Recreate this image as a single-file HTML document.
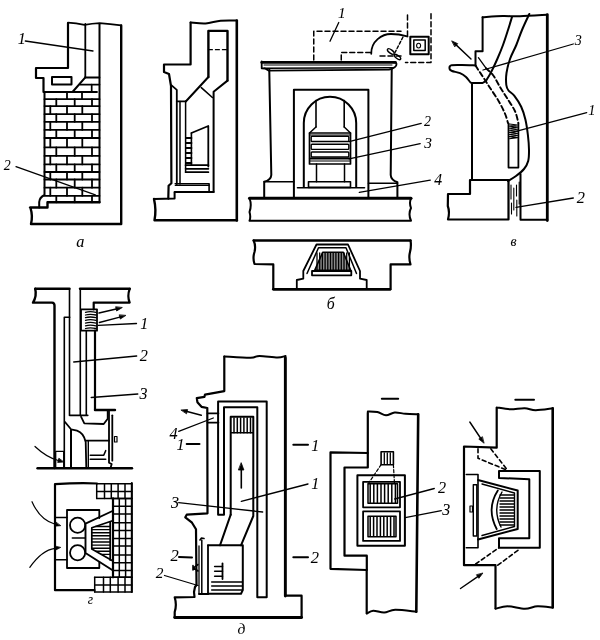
<!DOCTYPE html>
<html><head><meta charset="utf-8"><style>
html,body{margin:0;padding:0;background:#fff;width:600px;height:640px;overflow:hidden}
svg{display:block;will-change:transform}
text{font-family:"Liberation Serif",serif;font-style:italic;fill:#000;stroke:#000;stroke-width:0.05px}
</style></head><body>
<svg width="600" height="640" viewBox="0 0 600 640" fill="none" stroke="#000" stroke-linecap="round" stroke-linejoin="round">
<path d="M68,22.7 Q76,23 84.5,24.8 Q92,23.5 99.7,23.1 Q110,24 121.2,25.4" stroke-width="1.8" />
<path d="M121.2,25.4 L121.2,224 L31,224 Q33,216 30.5,208 L30,207.5 L47.5,207.5 L47.5,202.3 L99.5,202.3" stroke-width="2.4" />
<path d="M68,23 L68,68 L36,68 L36,78 L43.5,78 L43.5,92 L72.5,92" stroke-width="2.2" />
<path d="M44.5,92 L44.5,195 Q39.5,197.5 39.2,202 L39.2,207.5" stroke-width="2" />
<line x1="85.3" y1="24" x2="85.3" y2="77.3" stroke-width="1.8" />
<line x1="99.5" y1="24" x2="99.5" y2="202.3" stroke-width="2" />
<path d="M85.3,77.3 L72.5,92" stroke-width="2" />
<rect x="52" y="77" width="19.5" height="7.5" stroke-width="2" />
<line x1="44.5" y1="99.2" x2="99.5" y2="99.2" stroke-width="1.8" />
<line x1="44.5" y1="106.1" x2="99.5" y2="106.1" stroke-width="1.8" />
<line x1="44.5" y1="114.2" x2="99.5" y2="114.2" stroke-width="1.8" />
<line x1="44.5" y1="121.8" x2="99.5" y2="121.8" stroke-width="1.8" />
<line x1="44.5" y1="129.9" x2="99.5" y2="129.9" stroke-width="1.8" />
<line x1="44.5" y1="138" x2="99.5" y2="138" stroke-width="1.8" />
<line x1="44.5" y1="147.3" x2="99.5" y2="147.3" stroke-width="1.8" />
<line x1="44.5" y1="155.9" x2="99.5" y2="155.9" stroke-width="1.8" />
<line x1="44.5" y1="164.4" x2="99.5" y2="164.4" stroke-width="1.8" />
<line x1="44.5" y1="172" x2="99.5" y2="172" stroke-width="1.8" />
<line x1="44.5" y1="179.5" x2="99.5" y2="179.5" stroke-width="1.8" />
<line x1="44.5" y1="187.7" x2="99.5" y2="187.7" stroke-width="1.8" />
<line x1="44.5" y1="195.8" x2="99.5" y2="195.8" stroke-width="1.8" />
<line x1="67" y1="92" x2="67" y2="99.2" stroke-width="1.8" />
<line x1="82" y1="92" x2="82" y2="99.2" stroke-width="1.8" />
<line x1="56.3" y1="99.2" x2="56.3" y2="106.1" stroke-width="1.8" />
<line x1="74.7" y1="99.2" x2="74.7" y2="106.1" stroke-width="1.8" />
<line x1="92" y1="99.2" x2="92" y2="106.1" stroke-width="1.8" />
<line x1="50.3" y1="106.1" x2="50.3" y2="114.2" stroke-width="1.8" />
<line x1="67" y1="106.1" x2="67" y2="114.2" stroke-width="1.8" />
<line x1="82.3" y1="106.1" x2="82.3" y2="114.2" stroke-width="1.8" />
<line x1="56.3" y1="114.2" x2="56.3" y2="121.8" stroke-width="1.8" />
<line x1="74.7" y1="114.2" x2="74.7" y2="121.8" stroke-width="1.8" />
<line x1="92" y1="114.2" x2="92" y2="121.8" stroke-width="1.8" />
<line x1="50.3" y1="121.8" x2="50.3" y2="129.9" stroke-width="1.8" />
<line x1="67" y1="121.8" x2="67" y2="129.9" stroke-width="1.8" />
<line x1="82.3" y1="121.8" x2="82.3" y2="129.9" stroke-width="1.8" />
<line x1="56.3" y1="129.9" x2="56.3" y2="138" stroke-width="1.8" />
<line x1="74.7" y1="129.9" x2="74.7" y2="138" stroke-width="1.8" />
<line x1="92" y1="129.9" x2="92" y2="138" stroke-width="1.8" />
<line x1="50.3" y1="138" x2="50.3" y2="147.3" stroke-width="1.8" />
<line x1="67" y1="138" x2="67" y2="147.3" stroke-width="1.8" />
<line x1="82.3" y1="138" x2="82.3" y2="147.3" stroke-width="1.8" />
<line x1="56.3" y1="147.3" x2="56.3" y2="155.9" stroke-width="1.8" />
<line x1="74.7" y1="147.3" x2="74.7" y2="155.9" stroke-width="1.8" />
<line x1="92" y1="147.3" x2="92" y2="155.9" stroke-width="1.8" />
<line x1="50.3" y1="155.9" x2="50.3" y2="164.4" stroke-width="1.8" />
<line x1="67" y1="155.9" x2="67" y2="164.4" stroke-width="1.8" />
<line x1="82.3" y1="155.9" x2="82.3" y2="164.4" stroke-width="1.8" />
<line x1="56.3" y1="164.4" x2="56.3" y2="172" stroke-width="1.8" />
<line x1="74.7" y1="164.4" x2="74.7" y2="172" stroke-width="1.8" />
<line x1="92" y1="164.4" x2="92" y2="172" stroke-width="1.8" />
<line x1="50.3" y1="172" x2="50.3" y2="179.5" stroke-width="1.8" />
<line x1="67" y1="172" x2="67" y2="179.5" stroke-width="1.8" />
<line x1="82.3" y1="172" x2="82.3" y2="179.5" stroke-width="1.8" />
<line x1="56.3" y1="179.5" x2="56.3" y2="187.7" stroke-width="1.8" />
<line x1="74.7" y1="179.5" x2="74.7" y2="187.7" stroke-width="1.8" />
<line x1="92" y1="179.5" x2="92" y2="187.7" stroke-width="1.8" />
<line x1="50.3" y1="187.7" x2="50.3" y2="195.8" stroke-width="1.8" />
<line x1="67" y1="187.7" x2="67" y2="195.8" stroke-width="1.8" />
<line x1="82.3" y1="187.7" x2="82.3" y2="195.8" stroke-width="1.8" />
<line x1="56.3" y1="195.8" x2="56.3" y2="202.3" stroke-width="1.8" />
<line x1="74.7" y1="195.8" x2="74.7" y2="202.3" stroke-width="1.8" />
<line x1="92" y1="195.8" x2="92" y2="202.3" stroke-width="1.8" />
<line x1="85" y1="77.5" x2="99.5" y2="77.5" stroke-width="1.8" />
<line x1="80" y1="84.6" x2="99.5" y2="84.6" stroke-width="1.7" />
<line x1="91.7" y1="84.6" x2="91.7" y2="92" stroke-width="1.7" />
<line x1="72.5" y1="92" x2="97" y2="92" stroke-width="1.8" />
<text x="17.66" y="43.70" font-size="16.21">1</text>
<line x1="25.3" y1="41" x2="93" y2="51" stroke-width="1.3" />
<text x="3.73" y="170.00" font-size="13.85">2</text>
<line x1="16" y1="166.6" x2="95.3" y2="194.8" stroke-width="1.3" />
<text x="76.22" y="246.64" font-size="16.25">а</text>
<path d="M190.6,22.5 C193.10,22.65 200.60,23.68 205.6,23.4 C210.60,23.12 215.40,21.27 220.6,20.8 C225.80,20.33 234.10,20.63 236.8,20.6" stroke-width="2" />
<path d="M190.6,22.5 L190.6,64.5 L164,64.5 L164,72 L169,74 L171,86 L171.4,183.2 L168.6,185.8 L168.3,198.6" stroke-width="2.2" />
<line x1="236.8" y1="20.6" x2="236.8" y2="220.5" stroke-width="2.6" />
<path d="M154,199 L174.6,198.6 L174.6,192.5" stroke-width="2" />
<path d="M154,199 Q156.5,210 154.5,220.3 L237,220.3" stroke-width="2.4" />
<path d="M208.4,77 L208.4,30.9 L227.5,30.9 L227.5,80.6" stroke-width="2.4" />
<line x1="208.4" y1="49.7" x2="227.5" y2="49.7" stroke-width="1.2" stroke-dasharray="4,3"/>
<path d="M208.4,77 L186,101.3" stroke-width="2" />
<path d="M227.5,80.6 L213.6,91.7 L213.6,192" stroke-width="2" />
<path d="M201.3,87.6 L212.4,97.5" stroke-width="1.6" />
<path d="M171.6,85.3 L176.8,89.9 L176.8,184" stroke-width="1.8" />
<path d="M176.8,101.3 L186,101.3" stroke-width="1.8" />
<line x1="180" y1="101.6" x2="180" y2="184" stroke-width="1.5" />
<line x1="185.6" y1="101.3" x2="185.6" y2="172.2" stroke-width="1.5" />
<path d="M175.2,183.8 L209.1,183.8 L209.1,191.5" stroke-width="1.6" />
<line x1="175.2" y1="185.3" x2="209.1" y2="185.3" stroke-width="1.2" />
<line x1="174.6" y1="192" x2="213.6" y2="192" stroke-width="2" />
<path d="M191.4,133 L208.3,126 L208.3,166.6" stroke-width="1.8" />
<line x1="191.4" y1="133" x2="191.4" y2="165.2" stroke-width="1.6" />
<line x1="186.3" y1="138" x2="191.4" y2="138" stroke-width="2" />
<line x1="186.3" y1="143" x2="191.4" y2="143" stroke-width="2" />
<line x1="186.3" y1="148" x2="191.4" y2="148" stroke-width="2" />
<line x1="186.3" y1="153" x2="191.4" y2="153" stroke-width="2" />
<line x1="186.3" y1="158" x2="191.4" y2="158" stroke-width="2" />
<line x1="186.3" y1="163" x2="191.4" y2="163" stroke-width="2" />
<line x1="185.6" y1="165.2" x2="208.4" y2="165.2" stroke-width="1.8" />
<line x1="185.6" y1="168.8" x2="208.4" y2="168.8" stroke-width="1.7" />
<line x1="185.6" y1="172.2" x2="208.4" y2="172.2" stroke-width="1.7" />
<path d="M313.75,60 L313.75,31.25 L401,31.25" stroke-width="1.5" stroke-dasharray="5,3"/>
<path d="M341.25,60 L341.25,52.5 L372.5,52.5" stroke-width="1.5" stroke-dasharray="5,3"/>
<path d="M371.25,53.75 C371,41 382,34 391,34 C399,34 404,35.5 407.5,36.5" stroke-width="1.8" />
<path d="M407.5,15 L407.5,37.5" stroke-width="1.5" stroke-dasharray="5,3"/>
<path d="M431,13.75 L431,62.5 L405.5,62.5" stroke-width="1.5" stroke-dasharray="5,3"/>
<line x1="380" y1="56" x2="404" y2="56" stroke-width="1.5" stroke-dasharray="5,3"/>
<rect x="410.3" y="36.8" width="18.4" height="17.4" stroke-width="2.0" />
<rect x="413.8" y="40" width="11.4" height="10.6" stroke-width="1.5" />
<ellipse cx="418.6" cy="45.6" rx="2" ry="2.4" stroke-width="1.1"/>
<line x1="403" y1="37" x2="395" y2="52.5" stroke-width="1.4" stroke-dasharray="3,2"/>
<ellipse cx="390.8" cy="51.5" rx="4" ry="1.7" transform="rotate(37 390.8 51.5)" stroke-width="1.4"/>
<ellipse cx="397.5" cy="57" rx="3.8" ry="1.6" transform="rotate(37 397.5 57)" stroke-width="1.4"/>
<text x="337.99" y="17.50" font-size="15.15">1</text>
<line x1="338.75" y1="22.5" x2="330" y2="41.25" stroke-width="1.3" />
<path d="M261.7,62.4 L395.5,62.4" stroke-width="2.6" />
<path d="M261.7,61.5 L261.7,68.3 L265,68.5 L268.5,70.6 L389,69.6 L391.7,68.8 Q396.5,67 396.5,64 Q396.5,62.4 394,62.4" stroke-width="1.8" />
<line x1="264" y1="65" x2="392" y2="65" stroke-width="1.0" />
<line x1="264" y1="68.3" x2="392.5" y2="67.8" stroke-width="1.4" />
<path d="M269.3,69.3 L269.3,71.3 L271.3,175 Q271,180 264.2,181.8 L264.2,197.3" stroke-width="2" />
<path d="M391.7,69.3 L391.7,71.3 L390.7,175 Q391,180 397.4,182.2 L397.4,197.3" stroke-width="2" />
<line x1="264.2" y1="181.8" x2="293.9" y2="181.8" stroke-width="1.6" />
<line x1="368.4" y1="183.2" x2="397.4" y2="183.2" stroke-width="1.6" />
<path d="M293.9,197 L293.9,89.7 L368.4,89.7 L368.4,197" stroke-width="2" />
<path d="M303.8,187 L303.8,123 A26.2,26.2 0 0 1 356.2,123 L356.2,187" stroke-width="2" />
<line x1="316" y1="100.5" x2="316" y2="127" stroke-width="1.6" />
<line x1="344.2" y1="100.5" x2="344.2" y2="127" stroke-width="1.6" />
<path d="M316,127 L309.5,133" stroke-width="1.5" />
<path d="M344.2,127 L350.5,133" stroke-width="1.5" />
<line x1="297.5" y1="187.75" x2="364.5" y2="187.75" stroke-width="1.6" />
<rect x="308.5" y="181.8" width="42" height="5.6" stroke-width="1.6" />
<rect x="309.5" y="133" width="41" height="31" stroke-width="1.7" />
<line x1="309.5" y1="135" x2="350.5" y2="135" stroke-width="1.2" />
<rect x="311.2" y="136.3" width="37.6" height="5.2" stroke-width="1.4" rx="0.8"/>
<rect x="311.2" y="144.2" width="37.6" height="5.2" stroke-width="1.4" rx="0.8"/>
<rect x="311.2" y="152" width="37.6" height="5" stroke-width="1.4" rx="0.8"/>
<line x1="310" y1="158.5" x2="350" y2="158.5" stroke-width="2.2" />
<line x1="310" y1="161" x2="350" y2="161" stroke-width="1.2" />
<line x1="316.5" y1="164" x2="316.5" y2="181.8" stroke-width="1.5" />
<line x1="344.5" y1="164" x2="344.5" y2="181.8" stroke-width="1.5" />
<path d="M249.5,198.25 L411,198.25" stroke-width="3" />
<path d="M249.5,198.25 Q252,205 249.5,212 Q251,217 249.5,220.75 L411,220.75 Q408,214 411,208 Q409,203 411,198.25" stroke-width="2" />
<text x="423.89" y="126.40" font-size="14.00">2</text>
<line x1="349.1" y1="141.6" x2="421.2" y2="123.3" stroke-width="1.3" />
<text x="424.20" y="147.55" font-size="15.45">3</text>
<line x1="349.1" y1="158.9" x2="420.2" y2="143.6" stroke-width="1.3" />
<text x="434.18" y="185.20" font-size="15.69">4</text>
<line x1="359.3" y1="192.3" x2="430.3" y2="180.2" stroke-width="1.3" />
<path d="M253.7,240.5 L410.5,240.5" stroke-width="2.4" />
<path d="M253.7,240.5 Q256,246 254.5,252 Q252.5,258 254.5,264 L273.3,264.4 L273.3,289.3 L390.6,289.3 L390.6,264.4 L410.5,264.4 Q408.5,258 410,252 Q411.5,246 410.5,240.5" stroke-width="2.2" />
<line x1="273.3" y1="289.3" x2="390" y2="289.3" stroke-width="2.6" />
<path d="M296.8,289 L296.8,280 L303.3,278.7 L303.3,271 L316.5,244.5 L348,244.5 L360,271 L360,278.7 L366.7,280 L366.7,289" stroke-width="1.8" />
<path d="M307,273.5 L318.5,247.8 L346,247.8 L356.5,273.5" stroke-width="1.5" />
<path d="M322.7,252.3 L343.3,252.3 L350.7,270.3 L314.7,270.3 Z" stroke-width="1.6" fill="#000" fill-opacity="0.45"/>
<line x1="317.0" y1="253" x2="317.0" y2="270" stroke-width="1.3" />
<line x1="319.7" y1="253" x2="319.7" y2="270" stroke-width="1.3" />
<line x1="322.4" y1="253" x2="322.4" y2="270" stroke-width="1.3" />
<line x1="325.1" y1="253" x2="325.1" y2="270" stroke-width="1.3" />
<line x1="327.8" y1="253" x2="327.8" y2="270" stroke-width="1.3" />
<line x1="330.5" y1="253" x2="330.5" y2="270" stroke-width="1.3" />
<line x1="333.2" y1="253" x2="333.2" y2="270" stroke-width="1.3" />
<line x1="335.9" y1="253" x2="335.9" y2="270" stroke-width="1.3" />
<line x1="338.6" y1="253" x2="338.6" y2="270" stroke-width="1.3" />
<line x1="341.3" y1="253" x2="341.3" y2="270" stroke-width="1.3" />
<line x1="344.0" y1="253" x2="344.0" y2="270" stroke-width="1.3" />
<line x1="346.7" y1="253" x2="346.7" y2="270" stroke-width="1.3" />
<line x1="349.4" y1="253" x2="349.4" y2="270" stroke-width="1.3" />
<rect x="312" y="271" width="39.3" height="4.3" stroke-width="1.8" />
<text x="326.79" y="308.54" font-size="15.83">б</text>
<path d="M482.6,17.3 C485.95,17.08 496.47,16.17 502.7,16 C508.93,15.83 512.57,16.52 520,16.3 C527.43,16.08 542.75,14.97 547.3,14.7" stroke-width="2" />
<path d="M482.6,17.3 L482.6,51.3 L475.5,51.3 L475.5,65.4" stroke-width="2" />
<path d="M475.5,65.4 C473.25,65.33 466.08,65.00 462,65 C457.92,65.00 453.07,64.73 451,65.4 C448.93,66.07 449.43,68.07 449.6,69 C449.77,69.93 450.27,70.30 452,71 C453.73,71.70 457.67,72.20 460,73.2 C462.33,74.20 464.23,75.45 466,77 C467.77,78.55 469.43,81.50 470.6,82.5 C471.77,83.50 472.60,82.92 473,83" stroke-width="2" />
<path d="M473,83 L482.6,83 L486,80.8" stroke-width="2" />
<path d="M486,80.8 C486.83,79.40 489.12,76.03 491,72.4 C492.88,68.77 495.30,63.57 497.3,59 C499.30,54.43 501.22,49.83 503,45 C504.78,40.17 506.50,34.67 508,30 C509.50,25.33 511.33,19.17 512,17" stroke-width="2" />
<line x1="472" y1="83.2" x2="472" y2="180" stroke-width="2" />
<line x1="547.3" y1="14.7" x2="547.3" y2="220.5" stroke-width="2.8" />
<path d="M529.3,14 C528.08,16.67 524.17,24.83 522,30 C519.83,35.17 518.30,40.17 516.3,45 C514.30,49.83 511.63,54.33 510,59 C508.37,63.67 507.12,68.67 506.5,73 C505.88,77.33 505.97,82.08 506.3,85 C506.63,87.92 507.18,88.73 508.5,90.5 C509.82,92.27 512.08,92.88 514.2,95.6 C516.32,98.32 519.33,102.82 521.2,106.8 C523.07,110.78 524.28,114.80 525.4,119.5 C526.52,124.20 527.30,129.92 527.9,135 C528.50,140.08 528.95,145.67 529,150 C529.05,154.33 529.03,157.83 528.2,161 C527.37,164.17 526.03,166.50 524,169 C521.97,171.50 518.67,174.00 516,176 C513.33,178.00 509.33,180.17 508,181" stroke-width="2" />
<path d="M478.4,57.7 L486,68.2" stroke-width="1.3" />
<path d="M486,68.2 C487.18,69.37 490.75,72.03 493.1,75.2 C495.45,78.37 497.75,83.33 500.1,87.2 C502.45,91.07 504.73,94.43 507.2,98.4 C509.67,102.37 513.03,106.90 514.9,111 C516.77,115.10 517.82,121.00 518.4,123" stroke-width="1.9" stroke-dasharray="5,3"/>
<path d="M475.5,65.4 C476.08,66.33 477.70,69.02 479,71 C480.30,72.98 481.53,74.60 483.3,77.3 C485.07,80.00 487.03,83.22 489.6,87.2 C492.17,91.18 496.12,96.75 498.7,101.2 C501.28,105.65 503.55,110.27 505.1,113.9 C506.65,117.53 507.52,121.48 508,123" stroke-width="1.9" stroke-dasharray="5,3"/>
<line x1="471" y1="59" x2="456.355716103435" y2="45.1264678874647" stroke-width="1.4" />
<path d="M452.00,41.00 L457.73,43.67 L454.98,46.58 Z" stroke-width="0.8" fill="#000"/>
<path d="M508.5,123.5 L508.5,167.6 L518.4,167.6 L518.4,123.5" stroke-width="1.8" />
<path d="M509.5,124 L517.5,125.05 L509.5,126.10 L517.5,127.15 L509.5,128.20 L517.5,129.25 L509.5,130.30 L517.5,131.35 L509.5,132.40 L517.5,133.45 L509.5,134.50 L517.5,135.55 L509.5,136.60 L517.5,137.65 L509.5,138.70" stroke-width="1.1" />
<path d="M470,180 L508.5,180 L508.5,219.5 L448,219.5 Q450,212 447.8,206 L448,194 L470,194 Z" stroke-width="2.2" />
<path d="M520.5,174 L520.5,219.8 L547.3,219.8" stroke-width="2" />
<line x1="511" y1="185" x2="511" y2="199" stroke-width="1.1" />
<line x1="511.5" y1="203" x2="511.5" y2="214" stroke-width="1.1" />
<line x1="513.8" y1="188" x2="513.8" y2="210" stroke-width="1.1" />
<line x1="516.5" y1="185" x2="516.5" y2="196" stroke-width="1.1" />
<line x1="516.8" y1="200" x2="516.8" y2="216" stroke-width="1.1" />
<line x1="519.2" y1="182" x2="519.2" y2="204" stroke-width="1.1" />
<text x="574.76" y="45.16" font-size="14.09">3</text>
<line x1="573.3" y1="44" x2="483" y2="70" stroke-width="1.3" />
<text x="588.29" y="114.70" font-size="14.24">1</text>
<line x1="586.7" y1="112.7" x2="516" y2="131.3" stroke-width="1.3" />
<text x="576.74" y="203.30" font-size="16.31">2</text>
<line x1="573.3" y1="198" x2="516" y2="207.3" stroke-width="1.3" />
<text x="510.46" y="245.86" font-size="13.96">в</text>
<path d="M35.2,288.8 L69.5,288.8" stroke-width="2.4" />
<path d="M80,288.8 L129.7,288.8" stroke-width="2.4" />
<path d="M35.2,288.8 Q37,296 33,302.6 L52,302.6 Q54.5,302.8 54.5,305.5 L54.5,468" stroke-width="2.4" />
<path d="M129.7,288.8 Q127,296 129.7,302.6 L93.7,302.6 L93.7,309.3" stroke-width="2.2" />
<line x1="69.5" y1="288.8" x2="69.5" y2="415.3" stroke-width="1.6" />
<line x1="80.3" y1="288.8" x2="80.3" y2="415.3" stroke-width="1.6" />
<rect x="81" y="309.3" width="16" height="21.4" stroke-width="1.8" />
<path d="M85.5,312.30 Q90,310.90 96,312.30" stroke-width="1.3" />
<path d="M85.5,315.00 Q90,313.60 96,315.00" stroke-width="1.3" />
<path d="M85.5,317.70 Q90,316.30 96,317.70" stroke-width="1.3" />
<path d="M85.5,320.40 Q90,319.00 96,320.40" stroke-width="1.3" />
<path d="M85.5,323.10 Q90,321.70 96,323.10" stroke-width="1.3" />
<path d="M85.5,325.80 Q90,324.40 96,325.80" stroke-width="1.3" />
<path d="M85.5,328.50 Q90,327.10 96,328.50" stroke-width="1.3" />
<path d="M64.3,468 L64.3,317.3 L69.7,317.3" stroke-width="1.6" />
<line x1="86.3" y1="330.7" x2="86.3" y2="415.3" stroke-width="1.6" />
<line x1="95" y1="330.7" x2="95" y2="410" stroke-width="2.2" />
<line x1="69.7" y1="415.3" x2="87.7" y2="415.3" stroke-width="1.8" />
<path d="M95,410 L115,410" stroke-width="2.4" />
<line x1="99" y1="313" x2="116.15322468080659" y2="309.0473003996402" stroke-width="1.5" />
<path d="M122.00,307.70 L116.60,311.00 L115.70,307.10 Z" stroke-width="0.8" fill="#000"/>
<line x1="99.4" y1="322.4" x2="119.79241769502343" y2="317.1073114379329" stroke-width="1.5" />
<path d="M125.60,315.60 L120.29,319.04 L119.29,315.17 Z" stroke-width="0.8" fill="#000"/>
<text x="140.28" y="328.70" font-size="15.91">1</text>
<line x1="98.3" y1="325.3" x2="136.5" y2="323.5" stroke-width="1.3" />
<text x="139.77" y="361.30" font-size="16.15">2</text>
<line x1="73.7" y1="362" x2="136.7" y2="356" stroke-width="1.3" />
<text x="139.44" y="398.54" font-size="15.91">3</text>
<line x1="91.2" y1="397.5" x2="137.8" y2="394" stroke-width="1.3" />
<path d="M81,416.7 L84.3,423.3 L103.7,424 L107.7,418.7 L107.7,410" stroke-width="1.8" />
<path d="M109,411.3 L109,462.7 L111.7,464 L110.5,468" stroke-width="1.8" />
<line x1="112.3" y1="415.3" x2="112.3" y2="460.7" stroke-width="1.8" />
<rect x="114.5" y="436.5" width="2.5" height="5.5" stroke-width="1.2" />
<path d="M65,422 L71,429.3 L77,430.7 Q83.7,433 85.7,442 L86.3,468" stroke-width="1.8" />
<line x1="71" y1="430" x2="71" y2="468" stroke-width="2" />
<line x1="88.3" y1="441" x2="88.3" y2="468" stroke-width="1.4" />
<line x1="85.7" y1="440.7" x2="109" y2="440.7" stroke-width="1.8" />
<path d="M90.3,455.3 L103.7,455.3 L105.7,450.7" stroke-width="1.6" />
<line x1="90.3" y1="459.3" x2="105.7" y2="459.3" stroke-width="1.6" />
<rect x="55.7" y="451.3" width="8" height="16.7" stroke-width="1.3" />
<path d="M35,446.5 Q46,457 58.21,460.49" stroke-width="1.2" />
<path d="M63.50,462.00 L57.66,462.41 L58.76,458.57 Z" stroke-width="0.8" fill="#000"/>
<line x1="37.5" y1="468.3" x2="132" y2="468.3" stroke-width="2.4" />
<path d="M97,483.5 Q80,482.5 55,484.2 L55,590.2 L94.5,590.2" stroke-width="2.2" />
<line x1="96.7" y1="483.8" x2="96.7" y2="498.4" stroke-width="1.5" />
<line x1="104.5" y1="483.8" x2="104.5" y2="498.4" stroke-width="1.5" />
<line x1="111.3" y1="483.8" x2="111.3" y2="498.4" stroke-width="1.5" />
<line x1="118.1" y1="483.8" x2="118.1" y2="498.4" stroke-width="1.5" />
<line x1="125" y1="483.8" x2="125" y2="498.4" stroke-width="1.5" />
<line x1="131.8" y1="483.8" x2="131.8" y2="498.4" stroke-width="1.5" />
<line x1="96.7" y1="483.8" x2="131.8" y2="483.8" stroke-width="1.5" />
<line x1="96.7" y1="491.6" x2="131.8" y2="491.6" stroke-width="1.5" />
<line x1="96.7" y1="498.4" x2="131.8" y2="498.4" stroke-width="1.5" />
<line x1="113" y1="498.4" x2="113" y2="577.3" stroke-width="1.5" />
<line x1="119.3" y1="498.4" x2="119.3" y2="577.3" stroke-width="1.5" />
<line x1="125.6" y1="498.4" x2="125.6" y2="577.3" stroke-width="1.5" />
<line x1="131.8" y1="498.4" x2="131.8" y2="577.3" stroke-width="1.5" />
<line x1="113" y1="498.4" x2="131.8" y2="498.4" stroke-width="1.5" />
<line x1="113" y1="506.2" x2="131.8" y2="506.2" stroke-width="1.5" />
<line x1="113" y1="514" x2="131.8" y2="514" stroke-width="1.5" />
<line x1="113" y1="522.8" x2="131.8" y2="522.8" stroke-width="1.5" />
<line x1="113" y1="530.6" x2="131.8" y2="530.6" stroke-width="1.5" />
<line x1="113" y1="538.4" x2="131.8" y2="538.4" stroke-width="1.5" />
<line x1="113" y1="546.1" x2="131.8" y2="546.1" stroke-width="1.5" />
<line x1="113" y1="554.9" x2="131.8" y2="554.9" stroke-width="1.5" />
<line x1="113" y1="562.7" x2="131.8" y2="562.7" stroke-width="1.5" />
<line x1="113" y1="570.5" x2="131.8" y2="570.5" stroke-width="1.5" />
<line x1="113" y1="577.3" x2="131.8" y2="577.3" stroke-width="1.5" />
<line x1="94.7" y1="577.3" x2="94.7" y2="592" stroke-width="1.5" />
<line x1="103.5" y1="577.3" x2="103.5" y2="592" stroke-width="1.5" />
<line x1="110.3" y1="577.3" x2="110.3" y2="592" stroke-width="1.5" />
<line x1="118.1" y1="577.3" x2="118.1" y2="592" stroke-width="1.5" />
<line x1="125" y1="577.3" x2="125" y2="592" stroke-width="1.5" />
<line x1="131.8" y1="577.3" x2="131.8" y2="592" stroke-width="1.5" />
<line x1="94.7" y1="577.3" x2="131.8" y2="577.3" stroke-width="1.5" />
<line x1="94.7" y1="585.1" x2="131.8" y2="585.1" stroke-width="1.5" />
<line x1="94.7" y1="592" x2="131.8" y2="592" stroke-width="1.5" />
<line x1="113" y1="498.4" x2="113" y2="577.3" stroke-width="2.2" />
<line x1="131.8" y1="483" x2="131.8" y2="592" stroke-width="2" />
<path d="M99.3,518 L99.3,510 L67,510 L67,568 L99.3,568 L99.3,562" stroke-width="1.8" />
<circle cx="77.6" cy="525.2" r="7.6" stroke-width="1.8"/>
<circle cx="77.6" cy="552.7" r="7.6" stroke-width="1.8"/>
<line x1="72.3" y1="538" x2="85.2" y2="538" stroke-width="1.5" />
<line x1="55" y1="517.6" x2="67" y2="517.6" stroke-width="1.5" />
<line x1="55" y1="559.8" x2="67" y2="559.8" stroke-width="1.5" />
<path d="M112.5,511 L85.5,523.7 L85.5,553 L113,570.5" stroke-width="1.9" />
<path d="M112.5,520.8 L91.8,527.8 L91.8,549 L112.5,560.8" stroke-width="1.7" />
<line x1="110.2" y1="522" x2="110.2" y2="560" stroke-width="1.8" />
<line x1="95.64" y1="526.5" x2="110.2" y2="526.5" stroke-width="1.4" />
<line x1="91.8" y1="529.6" x2="110.2" y2="529.6" stroke-width="1.4" />
<line x1="91.8" y1="532.7" x2="110.2" y2="532.7" stroke-width="1.4" />
<line x1="91.8" y1="535.8" x2="110.2" y2="535.8" stroke-width="1.4" />
<line x1="91.8" y1="538.9" x2="110.2" y2="538.9" stroke-width="1.4" />
<line x1="91.8" y1="542.0" x2="110.2" y2="542.0" stroke-width="1.4" />
<line x1="91.8" y1="545.1" x2="110.2" y2="545.1" stroke-width="1.4" />
<line x1="91.8" y1="548.2" x2="110.2" y2="548.2" stroke-width="1.4" />
<line x1="95.83" y1="551.3" x2="110.2" y2="551.3" stroke-width="1.4" />
<line x1="101.27" y1="554.4" x2="110.2" y2="554.4" stroke-width="1.4" />
<path d="M32,501.7 Q40,520 55.10,524.22" stroke-width="1.2" />
<path d="M60.40,525.70 L54.56,526.15 L55.64,522.29 Z" stroke-width="0.8" fill="#000"/>
<path d="M29.8,567.3 Q42,550 54.95,548.31" stroke-width="1.2" />
<path d="M60.40,547.60 L55.20,550.29 L54.69,546.33 Z" stroke-width="0.8" fill="#000"/>
<text x="87.86" y="604.26" font-size="13.54">г</text>
<path d="M224.3,356.5 C228.67,356.71 244.63,357.85 250.5,357.75 C256.37,357.65 255.00,355.92 259.5,355.9 C264.00,355.88 273.17,357.58 277.5,357.6 C281.83,357.62 284.17,356.27 285.5,356" stroke-width="2" />
<path d="M224.3,356.7 L224.3,391.1 L205,394.6 L204.4,396.9 L196.8,398.1 L197.4,402.2 L201.5,406.8 L207.3,408 L207.5,513.3 L186.7,514.7 L185.3,517.3 L192,522.7 L196,529.3 L196.5,585 L195,587 L194,592 L194.5,597 L174.7,597.3 Q177,605 174.7,612 L174.7,617.5 L301.6,617.5 L301.6,595.7 L285.3,595.7 L285.3,356.7" stroke-width="2.2" />
<line x1="174.7" y1="617.5" x2="301.6" y2="617.5" stroke-width="2.8" />
<line x1="285.3" y1="358" x2="285.3" y2="596" stroke-width="2.8" />
<path d="M218.1,514.7 L218.1,401.5 L266.7,401.5 L266.7,597.3 L257.3,597.3 L257.3,407.3 L224,407.3 L224,514.7 Z" stroke-width="2" />
<path d="M230.7,514.7 L230.7,416.7 L253.3,416.7 L253.3,516 L241,545.3" stroke-width="2" />
<path d="M230.7,514.7 L220,545.3" stroke-width="2" />
<line x1="234.0" y1="418" x2="234.0" y2="432.7" stroke-width="1.5" />
<line x1="237.3" y1="418" x2="237.3" y2="432.7" stroke-width="1.5" />
<line x1="240.6" y1="418" x2="240.6" y2="432.7" stroke-width="1.5" />
<line x1="243.9" y1="418" x2="243.9" y2="432.7" stroke-width="1.5" />
<line x1="247.2" y1="418" x2="247.2" y2="432.7" stroke-width="1.5" />
<line x1="250.5" y1="418" x2="250.5" y2="432.7" stroke-width="1.5" />
<line x1="230.7" y1="432.7" x2="253.3" y2="432.7" stroke-width="1.4" />
<line x1="241.3" y1="488" x2="241.3" y2="470.0" stroke-width="1.6" />
<path d="M241.30,463.00 L243.90,470.00 L238.70,470.00 Z" stroke-width="0.8" fill="#000"/>
<line x1="207.5" y1="413.3" x2="218.4" y2="413.3" stroke-width="1.8" />
<line x1="207.5" y1="422.6" x2="218.4" y2="422.6" stroke-width="1.8" />
<line x1="201.3" y1="415.3" x2="187.09980917330694" y2="411.5369494309263" stroke-width="1.4" />
<path d="M181.30,410.00 L187.61,409.60 L186.59,413.47 Z" stroke-width="0.8" fill="#000"/>
<text x="169.39" y="439.30" font-size="16.31">4</text>
<line x1="178.7" y1="431.3" x2="213.3" y2="418" stroke-width="1.3" />
<text x="176.51" y="450.00" font-size="16.21">1</text>
<line x1="186.7" y1="443.9" x2="199.5" y2="443.9" stroke-width="2" />
<text x="311.25" y="451.30" font-size="16.06">1</text>
<line x1="293.3" y1="444.7" x2="308" y2="444.7" stroke-width="2" />
<path d="M208,545.3 L242.8,545.3 L242.8,590 L241,593.7 L208,593.7" stroke-width="2" />
<line x1="199" y1="546" x2="199" y2="594" stroke-width="1.3" />
<line x1="201.8" y1="540" x2="201.8" y2="594" stroke-width="1.5" />
<line x1="208" y1="545.3" x2="208" y2="594" stroke-width="1.8" />
<line x1="199" y1="594" x2="208" y2="594" stroke-width="1.8" />
<path d="M200,540 L201.5,538 L204,538.5" stroke-width="1.6" />
<path d="M198,564.5 L193.5,567.8 L198,571 M193,565.5 L193,570" stroke-width="1.6" />
<path d="M211.7,582 L242,582 M211.7,586 L242,586 M211.7,590 L242,590" stroke-width="1.5" />
<line x1="222.5" y1="563.5" x2="222.5" y2="579" stroke-width="1.8" />
<line x1="214.6" y1="566.4" x2="222.5" y2="566.4" stroke-width="1.5" />
<line x1="214.6" y1="571.3" x2="222.5" y2="571.3" stroke-width="1.5" />
<line x1="214.6" y1="576.2" x2="222.5" y2="576.2" stroke-width="1.5" />
<text x="311.25" y="489.30" font-size="16.06">1</text>
<line x1="308" y1="484" x2="241.3" y2="501.3" stroke-width="1.3" />
<text x="170.97" y="507.84" font-size="16.21">3</text>
<line x1="178.7" y1="502.7" x2="262.7" y2="512" stroke-width="1.3" />
<text x="170.54" y="560.86" font-size="16.50">2</text>
<line x1="179" y1="557" x2="192" y2="557.5" stroke-width="2" />
<text x="310.75" y="562.70" font-size="16.46">2</text>
<line x1="293.3" y1="557.3" x2="308" y2="557.3" stroke-width="2" />
<text x="155.81" y="578.00" font-size="15.38">2</text>
<line x1="164.5" y1="575.5" x2="198" y2="585.5" stroke-width="1.3" />
<text x="237.57" y="634.44" font-size="15.50">д</text>
<line x1="381.8" y1="398.7" x2="398.2" y2="398.7" stroke-width="2" />
<path d="M367.8,411.5 C369.38,411.58 374.27,411.37 377.3,412 C380.33,412.63 383.10,415.20 386,415.3 C388.90,415.40 391.45,412.87 394.7,412.6 C397.95,412.33 401.58,413.43 405.5,413.7 C409.42,413.97 416.08,414.12 418.2,414.2" stroke-width="2" />
<path d="M367.8,412.7 L367.8,453 L330.5,452.3 L330.5,568.8 L366.7,570 L366.7,613.2" stroke-width="2.2" />
<path d="M367.8,453 L367.8,467.5 L344.5,467.5 L344.5,555.7 L366.8,555.7 L366.8,570" stroke-width="2.2" />
<path d="M366.8,613.5 C367.87,613.03 370.30,610.85 373.2,610.7 C376.10,610.55 380.53,612.75 384.2,612.6 C387.87,612.45 389.85,609.95 395.2,609.8 C400.55,609.65 412.78,611.38 416.3,611.7" stroke-width="2" />
<line x1="416.3" y1="611.7" x2="418.2" y2="414.2" stroke-width="2.6" />
<rect x="381.1" y="451.8" width="12.3" height="12.9" stroke-width="1.6" />
<line x1="384.3" y1="453" x2="384.3" y2="464" stroke-width="1.3" />
<line x1="387.3" y1="453" x2="387.3" y2="464" stroke-width="1.3" />
<line x1="390.3" y1="453" x2="390.3" y2="464" stroke-width="1.3" />
<rect x="357.4" y="475.3" width="47.5" height="70.5" stroke-width="2" />
<line x1="381.1" y1="464.7" x2="368" y2="484" stroke-width="1.2" stroke-dasharray="3,2"/>
<line x1="393.4" y1="464.7" x2="394.5" y2="484" stroke-width="1.2" stroke-dasharray="3,2"/>
<rect x="363.1" y="481.9" width="36.9" height="25.4" stroke-width="1.8" />
<rect x="368" y="483.8" width="29.5" height="19.4" stroke-width="1.5" />
<line x1="370.2" y1="484.5" x2="370.2" y2="502.5" stroke-width="1.5" />
<line x1="373.8" y1="484.5" x2="373.8" y2="502.5" stroke-width="1.5" />
<line x1="377.4" y1="484.5" x2="377.4" y2="502.5" stroke-width="1.5" />
<line x1="381.0" y1="484.5" x2="381.0" y2="502.5" stroke-width="1.5" />
<line x1="384.59999999999997" y1="484.5" x2="384.59999999999997" y2="502.5" stroke-width="1.5" />
<line x1="388.2" y1="484.5" x2="388.2" y2="502.5" stroke-width="1.5" />
<line x1="391.8" y1="484.5" x2="391.8" y2="502.5" stroke-width="1.5" />
<line x1="395.4" y1="484.5" x2="395.4" y2="502.5" stroke-width="1.5" />
<rect x="363.1" y="511.4" width="36.9" height="29.5" stroke-width="1.8" />
<rect x="368" y="516.3" width="28" height="20.5" stroke-width="1.5" />
<line x1="370.2" y1="517" x2="370.2" y2="536" stroke-width="1.5" />
<line x1="373.59999999999997" y1="517" x2="373.59999999999997" y2="536" stroke-width="1.5" />
<line x1="377.0" y1="517" x2="377.0" y2="536" stroke-width="1.5" />
<line x1="380.4" y1="517" x2="380.4" y2="536" stroke-width="1.5" />
<line x1="383.8" y1="517" x2="383.8" y2="536" stroke-width="1.5" />
<line x1="387.2" y1="517" x2="387.2" y2="536" stroke-width="1.5" />
<line x1="390.59999999999997" y1="517" x2="390.59999999999997" y2="536" stroke-width="1.5" />
<line x1="394.0" y1="517" x2="394.0" y2="536" stroke-width="1.5" />
<text x="438.02" y="493.20" font-size="16.15">2</text>
<line x1="394.7" y1="499" x2="434.3" y2="488.5" stroke-width="1.3" />
<text x="442.34" y="515.14" font-size="15.91">3</text>
<line x1="405.2" y1="517.7" x2="441.3" y2="510.7" stroke-width="1.3" />
<line x1="515.3" y1="399.8" x2="534" y2="399.8" stroke-width="2" />
<path d="M496.7,407.4 C498.92,407.72 505.33,409.15 510,409.3 C514.67,409.45 520.42,408.15 524.7,408.3 C528.98,408.45 531.03,410.20 535.7,410.2 C540.37,410.20 549.87,408.62 552.7,408.3" stroke-width="2" />
<path d="M496.7,408 L496.7,447.7 L464,446.5 L464,565.2 L495.5,565.2 L495.5,608.3" stroke-width="2.2" />
<path d="M495.5,608.75 C497.50,608.33 502.58,606.25 507.5,606.25 C512.42,606.25 520.00,608.75 525,608.75 C530.00,608.75 532.88,606.46 537.5,606.25 C542.12,606.04 550.17,607.29 552.7,607.5" stroke-width="2" />
<line x1="552.7" y1="607.5" x2="552.7" y2="408.3" stroke-width="2.6" />
<path d="M478,448.8 L478,458.2 L506,469.8" stroke-width="1.6" stroke-dasharray="4,3"/>
<path d="M490.8,448.8 L507.2,469.8" stroke-width="1.6" stroke-dasharray="4,3"/>
<line x1="469.8" y1="422" x2="480.4717988226486" y2="438.0076982339729" stroke-width="1.4" />
<path d="M483.80,443.00 L478.81,439.12 L482.14,436.90 Z" stroke-width="0.8" fill="#000"/>
<path d="M499,547.7 L539.8,547.7 L539.8,471 L499,471 L499,478 L529.3,479.2 L529.3,538.3 L499,538.3 Z" stroke-width="2" />
<path d="M466.3,474.5 L478,474.5 L478,547.7 L466.3,547.7" stroke-width="1.6" />
<path d="M478,480 L517.7,490.5 L517.7,529 L478,539.5" stroke-width="2" />
<path d="M482,484 L514.5,493 L514.5,526.5 L482,535.5" stroke-width="1.4" />
<rect x="473.3" y="484.7" width="3.5" height="51.3" stroke-width="1.4" />
<rect x="470" y="506" width="2.5" height="6" stroke-width="1.2" />
<path d="M497.8,490.5 Q486,509 496.7,529" stroke-width="1.8" />
<path d="M502,492 Q492,509 501,527" stroke-width="1.4" />
<line x1="500" y1="495" x2="514" y2="495" stroke-width="1.4" />
<line x1="500" y1="498" x2="514" y2="498" stroke-width="1.4" />
<line x1="500" y1="501" x2="514" y2="501" stroke-width="1.4" />
<line x1="500" y1="504" x2="514" y2="504" stroke-width="1.4" />
<line x1="500" y1="507" x2="514" y2="507" stroke-width="1.4" />
<line x1="500" y1="510" x2="514" y2="510" stroke-width="1.4" />
<line x1="500" y1="513" x2="514" y2="513" stroke-width="1.4" />
<line x1="500" y1="516" x2="514" y2="516" stroke-width="1.4" />
<line x1="500" y1="519" x2="514" y2="519" stroke-width="1.4" />
<line x1="500" y1="522" x2="514" y2="522" stroke-width="1.4" />
<line x1="500" y1="525" x2="514" y2="525" stroke-width="1.4" />
<path d="M475.7,564 L499,547.7" stroke-width="1.6" stroke-dasharray="4,3"/>
<path d="M497.8,565.2 L520,548.8" stroke-width="1.6" stroke-dasharray="4,3"/>
<line x1="460.5" y1="588.5" x2="477.7492506858994" y2="576.6897022330778" stroke-width="1.4" />
<path d="M482.70,573.30 L478.88,578.34 L476.62,575.04 Z" stroke-width="0.8" fill="#000"/>
</svg>
</body></html>
